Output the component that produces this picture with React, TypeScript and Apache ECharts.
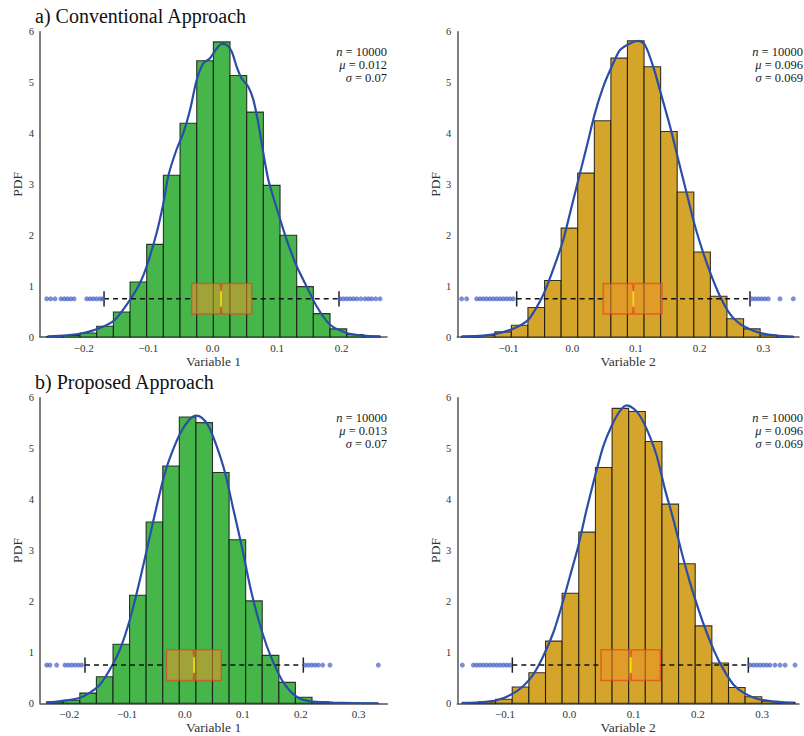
import React, { useEffect, useRef } from "react";
import * as echarts from "echarts";

// ---------- tick labels ----------
const xTicksA1 = [-0.2, -0.1, 0.0, 0.1, 0.2];
const xTicksA2 = [-0.1, 0.0, 0.1, 0.2, 0.3];
const xTicksB1 = [-0.2, -0.1, 0.0, 0.1, 0.2, 0.3];
const xTicksB2 = [-0.1, 0.0, 0.1, 0.2, 0.3];

// ---------- histograms (bin edges + densities) ----------
const edgesA1 = [-0.2574, -0.2316, -0.2057, -0.1799, -0.154, -0.1282, -0.1024, -0.0765, -0.0507, -0.0248, 0.001, 0.0268, 0.0527, 0.0785, 0.1044, 0.1302, 0.156, 0.1819, 0.2077, 0.2336, 0.2594];
const heightsA1 = [0.01, 0.03, 0.08, 0.21, 0.49, 1.08, 1.82, 3.18, 4.2, 5.43, 5.8, 5.14, 4.42, 2.98, 2.0, 0.99, 0.46, 0.16, 0.05, 0.02];

const edgesA2 = [-0.1737, -0.1477, -0.1216, -0.0956, -0.0696, -0.0435, -0.0175, 0.0085, 0.0346, 0.0606, 0.0866, 0.1127, 0.1387, 0.1647, 0.1908, 0.2168, 0.2428, 0.2689, 0.2949, 0.321, 0.347];
const heightsA2 = [0.01, 0.03, 0.1, 0.23, 0.58, 1.11, 2.14, 3.22, 4.25, 5.48, 5.82, 5.31, 4.04, 2.85, 1.67, 0.8, 0.36, 0.16, 0.04, 0.01];

const edgesB1 = [-0.2389, -0.2103, -0.1816, -0.153, -0.1243, -0.0957, -0.0671, -0.0384, -0.0098, 0.0189, 0.0475, 0.0762, 0.1048, 0.1334, 0.1621, 0.1907, 0.2194, 0.248, 0.2766, 0.3053, 0.3339];
const heightsB1 = [0.03, 0.06, 0.2, 0.52, 1.16, 2.12, 3.56, 4.66, 5.62, 5.51, 4.53, 3.21, 2.01, 0.94, 0.41, 0.12, 0.03, 0.01, 0.0, 0.003];

const edgesB2 = [-0.1664, -0.1405, -0.1146, -0.0888, -0.0629, -0.037, -0.0112, 0.0147, 0.0406, 0.0665, 0.0923, 0.1182, 0.1441, 0.1699, 0.1958, 0.2217, 0.2476, 0.2734, 0.2993, 0.3252, 0.351];
const heightsB2 = [0.01, 0.03, 0.08, 0.32, 0.6, 1.22, 2.16, 3.36, 4.63, 5.79, 5.73, 5.14, 3.91, 2.74, 1.52, 0.79, 0.31, 0.13, 0.04, 0.02];

// ---------- KDE curves ----------
const kdeXA1 = [-0.2559, -0.2264, -0.2006, -0.1747, -0.1515, -0.1282, -0.1127, -0.1024, -0.0869, -0.0765, -0.0688, -0.0559, -0.0455, -0.0352, -0.0249, -0.0145, -0.0042, 0.0062, 0.0139, 0.0217, 0.0294, 0.0372, 0.0449, 0.0552, 0.063, 0.0707, 0.0785, 0.0862, 0.0992, 0.1147, 0.1302, 0.1457, 0.1612, 0.1819, 0.2077, 0.2335, 0.2594];
const kdeYA1 = [0.013, 0.033, 0.079, 0.177, 0.34, 0.73, 1.06, 1.39, 2.05, 2.63, 3.17, 3.69, 4.01, 4.46, 5.05, 5.38, 5.48, 5.67, 5.76, 5.74, 5.61, 5.31, 5.08, 4.92, 4.66, 4.2, 3.61, 3.09, 2.53, 1.91, 1.39, 0.99, 0.6, 0.24, 0.08, 0.026, 0.007];

const kdeXA2 = [-0.1737, -0.1397, -0.1135, -0.09, -0.069, -0.0507, -0.0402, -0.0245, -0.0141, -0.0036, 0.0095, 0.0226, 0.0356, 0.0487, 0.0618, 0.0749, 0.0906, 0.1037, 0.1141, 0.1272, 0.1403, 0.1534, 0.1665, 0.1795, 0.1926, 0.2057, 0.2188, 0.2319, 0.2449, 0.258, 0.2737, 0.2947, 0.3208, 0.347];
const kdeYA2 = [0.013, 0.026, 0.079, 0.177, 0.34, 0.7, 0.99, 1.52, 1.91, 2.43, 3.09, 3.74, 4.4, 4.92, 5.31, 5.64, 5.77, 5.82, 5.74, 5.31, 4.73, 4.14, 3.48, 2.83, 2.18, 1.65, 1.19, 0.8, 0.5, 0.31, 0.18, 0.08, 0.026, 0.007];

const kdeXB1 = [-0.2389, -0.2101, -0.1813, -0.1641, -0.1468, -0.1295, -0.1123, -0.095, -0.0777, -0.0633, -0.0489, -0.0345, -0.0202, -0.0058, 0.0086, 0.019, 0.0288, 0.0403, 0.0547, 0.0691, 0.0835, 0.0979, 0.1123, 0.1267, 0.1411, 0.1554, 0.1698, 0.1842, 0.1986, 0.2216, 0.2562, 0.3328];
const kdeYB1 = [0.007, 0.046, 0.11, 0.21, 0.37, 0.67, 1.06, 1.65, 2.43, 3.15, 3.87, 4.53, 4.99, 5.35, 5.58, 5.65, 5.61, 5.45, 5.05, 4.53, 3.81, 3.09, 2.3, 1.65, 1.13, 0.73, 0.41, 0.21, 0.09, 0.033, 0.013, 0.0];

const kdeXB2 = [-0.1674, -0.1337, -0.113, -0.0896, -0.0715, -0.0559, -0.0404, -0.0248, -0.0119, 0.0011, 0.014, 0.027, 0.04, 0.0529, 0.0659, 0.0788, 0.0892, 0.0996, 0.11, 0.1229, 0.1359, 0.1488, 0.1618, 0.1748, 0.1877, 0.2007, 0.2136, 0.2266, 0.2395, 0.2551, 0.2707, 0.2914, 0.3173, 0.3484];
const kdeYB2 = [0.007, 0.026, 0.059, 0.177, 0.34, 0.57, 0.93, 1.39, 1.91, 2.5, 3.09, 3.81, 4.46, 5.05, 5.45, 5.74, 5.85, 5.79, 5.64, 5.31, 4.86, 4.2, 3.61, 2.96, 2.37, 1.85, 1.39, 0.99, 0.67, 0.37, 0.21, 0.09, 0.033, 0.007];

// ---------- box plots: [lower whisker, Q1, median, Q3, upper whisker] ----------
const boxA1 = [-0.1685, -0.0326, 0.0129, 0.0604, 0.1958];
const boxA2 = [-0.0873, 0.0487, 0.0958, 0.141, 0.279];
const boxB1 = [-0.1727, -0.032, 0.0155, 0.0627, 0.2044];
const boxB2 = [-0.0886, 0.0493, 0.0955, 0.1415, 0.2784];

// ---------- outliers ----------
const outliersA1 = [-0.2574, -0.2512, -0.2445, -0.2352, -0.23, -0.2254, -0.2202, -0.215, -0.1954, -0.1902, -0.1851, -0.1799, -0.1747, -0.1706, 0.1974, 0.2025, 0.2077, 0.2129, 0.218, 0.2233, 0.2295, 0.2361, 0.2413, 0.2465, 0.2527, 0.2594];
const outliersA2 = [-0.1737, -0.1658, -0.1501, -0.1449, -0.1397, -0.1344, -0.1292, -0.124, -0.1187, -0.1135, -0.1083, -0.103, -0.0978, -0.0926, 0.2816, 0.2868, 0.292, 0.2973, 0.3025, 0.3077, 0.326, 0.347];
const outliersB1 = [-0.2389, -0.2332, -0.2216, -0.2073, -0.2015, -0.1957, -0.19, -0.1842, -0.1785, 0.2073, 0.213, 0.2188, 0.2245, 0.2303, 0.2378, 0.2504, 0.3339];
const outliersB2 = [-0.1664, -0.1493, -0.1441, -0.1389, -0.1337, -0.1285, -0.1233, -0.1181, -0.113, -0.1078, -0.1026, -0.0974, -0.0922, 0.281, 0.2862, 0.2914, 0.2966, 0.3018, 0.307, 0.3121, 0.3199, 0.3277, 0.3355, 0.351];

// ---------- stats text ----------
const statsA1 = ["10000", "0.012", "0.07"];
const statsA2 = ["10000", "0.096", "0.069"];
const statsB1 = ["10000", "0.013", "0.07"];
const statsB2 = ["10000", "0.096", "0.069"];

const titles = ["a) Conventional Approach", "b) Proposed Approach"];
const xNames = ["Variable 1", "Variable 2", "Variable 1", "Variable 2"];

const SERIF = "Liberation Serif";
const GREEN = "#46b64a";
const GOLD = "#d5a42a";

const panels = [
  { edges: edgesA1, heights: heightsA1, kx: kdeXA1, ky: kdeYA1, box: boxA1, out: outliersA1, stats: statsA1, ticks: xTicksA1, color: GREEN,
    grid: { left: 40, top: 31.7, width: 347, height: 305.3 }, min: -0.2678, max: 0.2702, textRight: 387, textTop: 51.5 },
  { edges: edgesA2, heights: heightsA2, kx: kdeXA2, ky: kdeYA2, box: boxA2, out: outliersA2, stats: statsA2, ticks: xTicksA2, color: GOLD,
    grid: { left: 457.3, top: 31.7, width: 341.7, height: 305.3 }, min: -0.1805, max: 0.3559, textRight: 803, textTop: 51.5 },
  { edges: edgesB1, heights: heightsB1, kx: kdeXB1, ky: kdeYB1, box: boxB1, out: outliersB1, stats: statsB1, ticks: xTicksB1, color: GREEN,
    grid: { left: 40, top: 397.7, width: 347.3, height: 305.6 }, min: -0.2504, max: 0.3494, textRight: 387, textTop: 418 },
  { edges: edgesB2, heights: heightsB2, kx: kdeXB2, ky: kdeYB2, box: boxB2, out: outliersB2, stats: statsB2, ticks: xTicksB2, color: GOLD,
    grid: { left: 457.3, top: 397.7, width: 341.7, height: 305.6 }, min: -0.1742, max: 0.3572, textRight: 803, textTop: 418 },
];

function fmtX(v: number) {
  const s = Math.abs(v) < 1e-9 ? "0.0" : v.toFixed(1);
  return s.replace("-", "\u2212");
}

export default function App() {
  const ref = useRef<HTMLDivElement>(null);
  useEffect(() => {
    if (!ref.current) return;
    const chart = echarts.init(ref.current, undefined, { renderer: "svg" });

    const grids: any[] = [];
    const xAxes: any[] = [];
    const yAxes: any[] = [];
    const series: any[] = [];
    const graphics: any[] = [];

    panels.forEach((p, i) => {
      grids.push({ ...p.grid, containLabel: false });
      xAxes.push({
        type: "value",
        gridIndex: i,
        min: p.min,
        max: p.max,
        axisLine: { show: true, onZero: false, lineStyle: { color: "#555", width: 1.5 } },
        axisTick: { show: false },
        splitLine: { show: false },
        axisLabel: {
          customValues: p.ticks,
          formatter: (v: number) => fmtX(v),
          fontFamily: SERIF,
          fontSize: 11,
          color: "#333",
          margin: 5,
        },
        name: xNames[i],
        nameLocation: "middle",
        nameGap: 17,
        nameTextStyle: { fontFamily: SERIF, fontSize: 13.5, color: "#333", verticalAlign: "top" },
      });
      yAxes.push({
        type: "value",
        gridIndex: i,
        min: 0,
        max: 6,
        interval: 1,
        axisLine: { show: true, onZero: false, lineStyle: { color: "#555", width: 1.5 } },
        axisTick: { show: false },
        splitLine: { show: false },
        axisLabel: { fontFamily: SERIF, fontSize: 10.5, color: "#333", margin: 6 },
        name: "PDF",
        nameLocation: "middle",
        nameGap: 13,
        nameTextStyle: { fontFamily: SERIF, fontSize: 13.5, color: "#333" },
      });

      const histData = p.heights.map((h, k) => [p.edges[k], p.edges[k + 1], h]);
      const color = p.color;
      series.push({
        type: "custom",
        xAxisIndex: i,
        yAxisIndex: i,
        z: 2,
        data: histData,
        encode: { x: [0, 1], y: 2 },
        renderItem: (params: any, api: any) => {
          const a = api.coord([api.value(0), api.value(2)]);
          const b = api.coord([api.value(1), 0]);
          return {
            type: "rect",
            shape: { x: a[0], y: a[1], width: b[0] - a[0], height: b[1] - a[1] },
            style: { fill: color, stroke: "rgba(20,20,20,0.85)", lineWidth: 1.1 },
          };
        },
      });

      series.push({
        type: "line",
        xAxisIndex: i,
        yAxisIndex: i,
        z: 4,
        data: p.kx.map((x, k) => [x, p.ky[k]]),
        showSymbol: false,
        smooth: 0.25,
        lineStyle: { color: "#2a4ea8", width: 2.2 },
      });

      series.push({
        type: "custom",
        xAxisIndex: i,
        yAxisIndex: i,
        z: 5,
        data: [p.box],
        encode: { x: [0, 1, 2, 3, 4] },
        renderItem: (params: any, api: any) => {
          const wl = api.value(0), q1 = api.value(1), md = api.value(2), q3 = api.value(3), wh = api.value(4);
          const c = (x: number, y: number) => api.coord([x, y]);
          const nw = 0.0015;
          const poly = [
            c(q1, 0.45), c(md - nw, 0.45), c(md, 0.6), c(md + nw, 0.45), c(q3, 0.45),
            c(q3, 1.05), c(md + nw, 1.05), c(md, 0.9), c(md - nw, 1.05), c(q1, 1.05),
          ];
          const yc = 0.75;
          const dash = { stroke: "#111", lineWidth: 1.5, lineDash: [5, 4] };
          return {
            type: "group",
            children: [
              { type: "line", shape: { x1: c(wl, yc)[0], y1: c(wl, yc)[1], x2: c(q1, yc)[0], y2: c(q1, yc)[1] }, style: dash },
              { type: "line", shape: { x1: c(q3, yc)[0], y1: c(q3, yc)[1], x2: c(wh, yc)[0], y2: c(wh, yc)[1] }, style: dash },
              { type: "line", shape: { x1: c(wl, 0.6)[0], y1: c(wl, 0.6)[1], x2: c(wl, 0.9)[0], y2: c(wl, 0.9)[1] }, style: { stroke: "#222", lineWidth: 1.5 } },
              { type: "line", shape: { x1: c(wh, 0.6)[0], y1: c(wh, 0.6)[1], x2: c(wh, 0.9)[0], y2: c(wh, 0.9)[1] }, style: { stroke: "#222", lineWidth: 1.5 } },
              { type: "polygon", shape: { points: poly }, style: { fill: "rgba(235,148,40,0.55)", stroke: "rgba(232,62,30,0.65)", lineWidth: 1.5 } },
              { type: "line", shape: { x1: c(md, 0.6)[0], y1: c(md, 0.6)[1], x2: c(md, 0.9)[0], y2: c(md, 0.9)[1] }, style: { stroke: "#f5e400", lineWidth: 1.6 } },
            ],
          };
        },
      });

      series.push({
        type: "scatter",
        xAxisIndex: i,
        yAxisIndex: i,
        z: 6,
        data: p.out.map((x) => [x, 0.75]),
        symbolSize: 5,
        itemStyle: { color: "rgba(62,88,195,0.85)" },
      });

      const lines = [
        `{i|n} = ${p.stats[0]}`,
        `{i|\u03bc} = ${p.stats[1]}`,
        `{i|\u03c3} = ${p.stats[2]}`,
      ];
      lines.forEach((t, k) => {
        graphics.push({
          type: "text",
          x: p.textRight,
          y: p.textTop + k * 13,
          z: 10,
          style: {
            text: t,
            fontFamily: SERIF,
            fontSize: 12.5,
            lineHeight: 12,
            fill: "#222",
            align: "right",
            verticalAlign: "middle",
            rich: { i: { fontStyle: "italic", fontFamily: SERIF, fontSize: 12.5, lineHeight: 12, fill: "#222" } },
          },
        });
      });
    });

    graphics.push({ type: "text", x: 35, y: 16, style: { text: titles[0], fontFamily: SERIF, fontSize: 20, fill: "#111", verticalAlign: "middle" } });
    graphics.push({ type: "text", x: 35, y: 382, style: { text: titles[1], fontFamily: SERIF, fontSize: 20, fill: "#111", verticalAlign: "middle" } });

    chart.setOption({
      animation: false,
      backgroundColor: "#ffffff",
      grid: grids,
      xAxis: xAxes,
      yAxis: yAxes,
      series,
      graphic: graphics,
    });
    return () => chart.dispose();
  }, []);

  return <div ref={ref} style={{ position: "absolute", left: 0, top: 0, width: 804, height: 736 }} />;
}
